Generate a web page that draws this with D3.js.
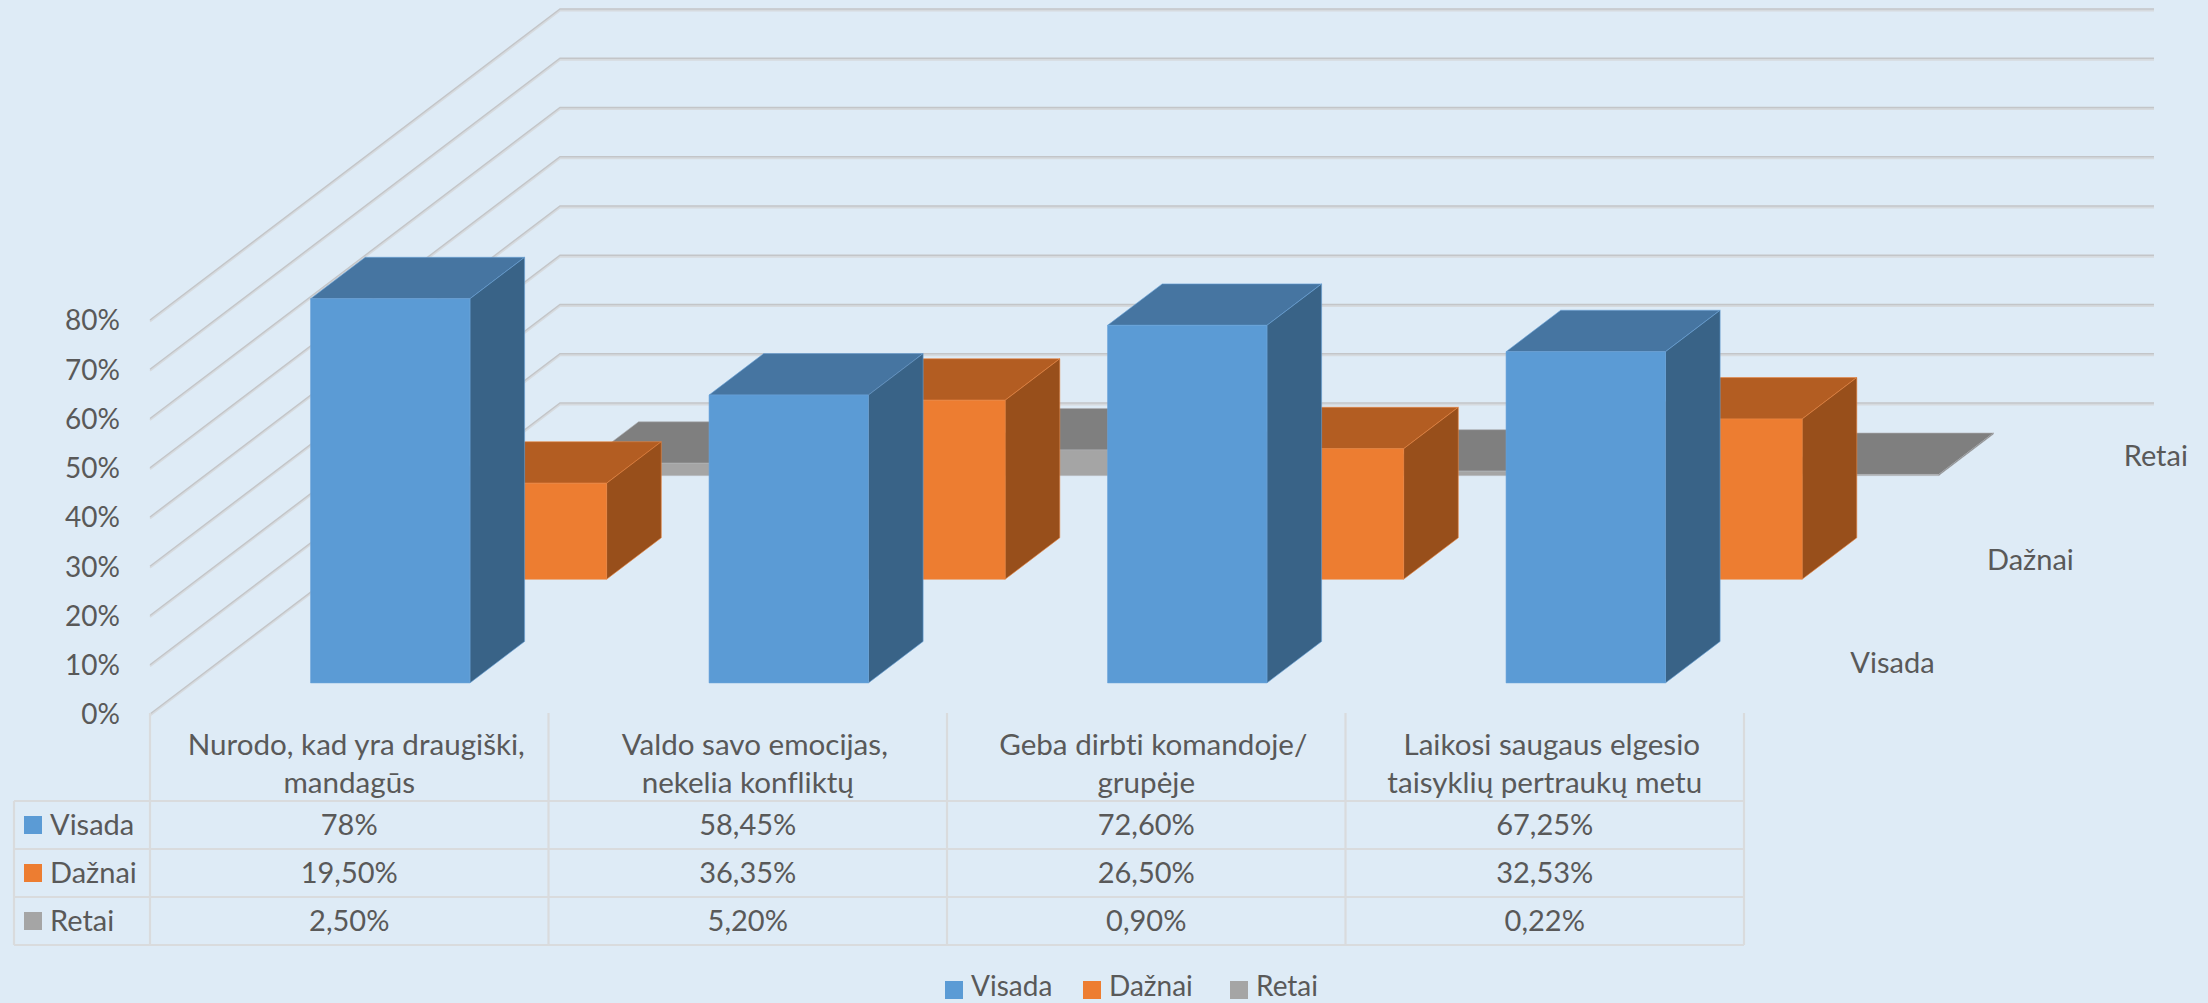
<!DOCTYPE html>
<html>
<head>
<meta charset="utf-8">
<script src="https://cdn.jsdelivr.net/npm/d3@7"></script>
<style>
    html, body { margin: 0; padding: 0; background: #deebf6; }
    text { font-family: Lato, sans-serif; font-size: 29px; fill: #595959; font-variant-ligatures: none; }
    .axis .domain, .axis line { display: none; }
    .tableLine { stroke: #d9dbdd; stroke-width: 2.2; fill: none; }
</style>
</head>
<body>
<div id="chart"></div>
<script>
const W = 2208, H = 1003;

const categories = [
    ["Nurodo, kad yra draugiški,", "mandagūs"],
    ["Valdo savo emocijas,", "nekelia konfliktų"],
    ["Geba dirbti komandoje/", "grupėje"],
    ["Laikosi saugaus elgesio", "taisyklių pertraukų metu"],
];
const seriesNames = ["Visada", "Dažnai", "Retai"];
const visada = [78, 58.45, 72.6, 67.25];
const daznai = [19.5, 36.35, 26.5, 32.53];
const retai = [2.5, 5.2, 0.9, 0.22];
const visadaLabels = ["78%", "58,45%", "72,60%", "67,25%"];
const daznaiLabels = ["19,50%", "36,35%", "26,50%", "32,53%"];
const retaiLabels = ["2,50%", "5,20%", "0,90%", "0,22%"];
const yTicks = [0, 10, 20, 30, 40, 50, 60, 70, 80];

const seriesValues = [visada, daznai, retai];
const seriesLabels = [visadaLabels, daznaiLabels, retaiLabels];
const catIdx = d3.range(categories.length);

// colours per series: front, top, side
const colors = [
    { front: "#5b9bd5", top: "#4675a1", side: "#396387", edge: "#69a2d8" },
    { front: "#ed7d31", top: "#b35d22", side: "#984f1b", edge: "#e9853f" },
    { front: "#a5a5a5", top: "#7f7f7f", side: "#696969", edge: "#aeb0b3" },
];

// oblique projection: depth 0..1 moves the point up and to the right
const DEPTH_X = 410, DEPTH_Y = 311;
const x0 = 150, x1 = 1744;

const x = d3.scaleBand().domain(catIdx).range([x0, x1]).paddingInner(0.6).paddingOuter(0.3);
const col = d3.scaleBand().domain(catIdx).range([x0, x1]);
const y = d3.scaleLinear().domain([0, 80]).range([714, 320]);
const z = d3.scaleBand().domain(d3.range(3)).range([0, 1]).paddingInner(0.6).paddingOuter(0.3);

function pt(px, v, d) {
    return [px + d * DEPTH_X, y(v) - d * DEPTH_Y];
}

const svg = d3.select("#chart").append("svg")
    .attr("width", W)
    .attr("height", H)
    .style("display", "block");

svg.append("rect").attr("width", W).attr("height", H).attr("fill", "#deebf6");

// walls
const line = d3.line();
const grid = svg.append("g");
yTicks.forEach(t => {
    const pts = [pt(x0, t, 0), pt(x0, t, 1), pt(x1, t, 1)];
    grid.append("path").attr("d", line(pts)).attr("transform", "translate(0,1.5)")
        .attr("fill", "none").attr("stroke", "#d6dade").attr("stroke-width", 2);
    grid.append("path").attr("d", line(pts))
        .attr("fill", "none").attr("stroke", "#c3c5c8").attr("stroke-width", 1.4);
});

// bars, back series first
const bars = svg.append("g");
[2, 1, 0].forEach(s => {
    const d0 = z(s), d1 = z(s) + z.bandwidth();
    catIdx.forEach(c => {
        const v = seriesValues[s][c];
        const l = x(c), r = x(c) + x.bandwidth();
        const faces = [
            { f: colors[s].top, p: [pt(l, v, d0), pt(r, v, d0), pt(r, v, d1), pt(l, v, d1)] },
            { f: colors[s].side, p: [pt(r, 0, d0), pt(r, v, d0), pt(r, v, d1), pt(r, 0, d1)] },
            { f: colors[s].front, p: [pt(l, 0, d0), pt(r, 0, d0), pt(r, v, d0), pt(l, v, d0)] },
        ];
        bars.selectAll(null)
            .data(faces)
            .enter()
            .append("path")
            .attr("d", d => line(d.p) + "Z")
            .attr("fill", d => d.f)
            .attr("stroke", colors[s].edge)
            .attr("stroke-width", 0.6)
            .attr("stroke-linejoin", "round");
    });
});

// value axis
const yAxis = d3.axisLeft(y).tickValues(yTicks).tickFormat(d => d + "%").tickSize(0).tickPadding(0);
svg.append("g").attr("class", "axis").attr("transform", "translate(120,1)").call(yAxis)
    .selectAll("text").style("font-family", "Lato, sans-serif").style("font-size", "28px").attr("fill", "#595959");

// depth axis labels
seriesNames.forEach((n, s) => {
    const p = pt(x1, 0, z(s) + z.bandwidth() / 2);
    svg.append("text").attr("x", p[0] + 38).attr("y", p[1] + 1).attr("dy", "0.35em").text(n);
});

// data table
const table = svg.append("g");
const rowY = [801, 849, 897, 945];
rowY.forEach(ry => {
    table.append("line").attr("class", "tableLine").attr("x1", 14).attr("x2", x1).attr("y1", ry).attr("y2", ry);
});
catIdx.forEach(c => {
    table.append("line").attr("class", "tableLine")
        .attr("x1", col(c)).attr("x2", col(c)).attr("y1", 713).attr("y2", 945);
    categories[c].forEach((t, i) => {
        // first header line sits a little right of the column centre in the original
        table.append("text").attr("x", col(c) + col.bandwidth() / 2 + (i === 0 ? 7 : 0)).attr("y", 745 + i * 38)
            .attr("dy", "0.35em").attr("text-anchor", "middle").style("font-size", "29.6px").text(t);
    });
    seriesLabels.forEach((labels, s) => {
        table.append("text").attr("x", col(c) + col.bandwidth() / 2).attr("y", 825 + s * 48)
            .attr("dy", "0.35em").attr("text-anchor", "middle").text(labels[c]);
    });
});
table.append("line").attr("class", "tableLine").attr("x1", x1).attr("x2", x1).attr("y1", 713).attr("y2", 945);
table.append("line").attr("class", "tableLine").attr("x1", 14).attr("x2", 14).attr("y1", 801).attr("y2", 945);
seriesNames.forEach((n, s) => {
    table.append("rect").attr("x", 24).attr("y", 816 + s * 48).attr("width", 18).attr("height", 18).attr("fill", colors[s].front);
    table.append("text").attr("x", 50).attr("y", 825 + s * 48).attr("dy", "0.35em").text(n);
});

// legend, baseline kept clear of the bottom edge
const legendX = [945, 1083, 1230];
seriesNames.forEach((n, s) => {
    svg.append("rect").attr("x", legendX[s]).attr("y", 981).attr("width", 18).attr("height", 18).attr("fill", colors[s].front);
    svg.append("text").attr("x", legendX[s] + 26).attr("y", 996).style("font-size", "28px").text(n);
});
</script>
</body>
</html>
